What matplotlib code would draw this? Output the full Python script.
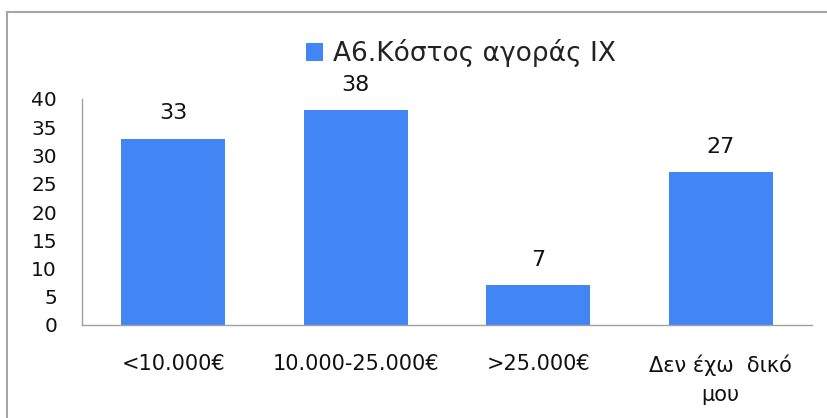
import matplotlib
matplotlib.use("Agg")
import matplotlib.pyplot as plt
from matplotlib.patches import Rectangle

categories = ["<10.000€", "10.000-25.000€", ">25.000€", "Δεν έχω  δικό\nμου"]
values = [33, 38, 7, 27]
series_name = "Α6.Κόστος αγοράς ΙΧ"
yticks = [0, 5, 10, 15, 20, 25, 30, 35, 40]

W, H = 827, 418
fig = plt.figure(figsize=(W / 100, H / 100), dpi=100)
fig.patch.set_facecolor("white")
plt.rcParams["font.family"] = "DejaVu Sans"

# figure border (clipped at right and bottom)
fig.patches.append(Rectangle((7 / W, -0.1), 1.2, 1 - 11.5 / H + 0.1,
                             transform=fig.transFigure, fill=False,
                             edgecolor="#a6a6a6", linewidth=1.5))

ax = fig.add_axes([82 / W, 1 - 325 / H, (812 - 82) / W, (325 - 99) / H])
blue = "#4285F4"
x = list(range(len(categories)))
bars = ax.bar(x, values, width=0.57, color=blue, label=series_name)
ax.set_xlim(-0.5, len(categories) - 0.5)
ax.set_ylim(0, 40)
ax.set_yticks(yticks)
ax.set_xticks(x)
ax.set_xticklabels(categories, fontsize=15, linespacing=1.6,
                   va="top", color="#111111")
ax.tick_params(axis="x", length=0, pad=21)
ax.tick_params(axis="y", length=0, pad=18, labelsize=14.5, labelcolor="#111111")
for s in ["top", "right"]:
    ax.spines[s].set_visible(False)
for s in ["left", "bottom"]:
    ax.spines[s].set_color("#a0a0a0")
    ax.spines[s].set_linewidth(1.0)

for rect, v in zip(bars, values):
    ax.annotate(str(v), (rect.get_x() + rect.get_width() / 2, v),
                xytext=(0, 11), textcoords="offset points",
                ha="center", va="bottom", fontsize=16, color="#111111")

leg = fig.legend(handles=[bars], labels=[series_name], loc="center",
                 bbox_to_anchor=(461 / W, 1 - 53 / H), frameon=False,
                 handlelength=0.65, handleheight=0.65,
                 handletextpad=0.4, prop={"family": "DejaVu Sans", "size": 19})
for t in leg.get_texts():
    t.set_color("#222222")

fig.savefig("out.png", dpi=100)
